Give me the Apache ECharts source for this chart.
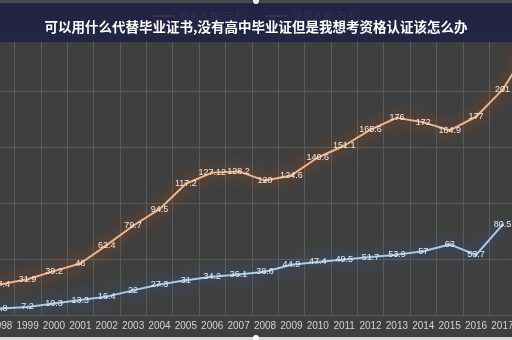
<!DOCTYPE html>
<html><head><meta charset="utf-8">
<script src="https://cdn.jsdelivr.net/npm/echarts@6/dist/echarts.min.js"></script>
<style>html,body{margin:0;padding:0;background:#3c3c3c;}#c{width:512px;height:340px;}</style>
</head><body><div id="c"></div>
<script>
var years = ['1998','1999','2000','2001','2002','2003','2004','2005','2006','2007','2008','2009','2010','2011','2012','2013','2014','2015','2016','2017','2018'];
var applicants = [27.4,31.9,39.2,46,62.4,79.7,94.5,117.2,127.12,128.2,120,124.6,140.6,151.1,165.6,176,172,164.9,177,201,238];
var admitted = [5.8,7.2,10.3,13.3,16.4,22,27.3,31,34.2,36.1,38.6,44.9,47.4,49.5,51.7,53.9,57,63,53.7,80.5,null];
var seriesNames = ['报名人数(万人)','录取人数(万人)'];
var titleText = '可以用什么代替毕业证书,没有高中毕业证但是我想考资格认证该怎么办';

var chart = echarts.init(document.getElementById('c'));
chart.setOption({
  backgroundColor: '#3f3f3f',
  animation: false,
  title: {
    text: titleText, left: 'center', top: 15, z: 300,
    textStyle: {color: '#ffffff', fontSize: 13.5, fontWeight: 'bold', fontFamily: 'Noto Sans CJK SC'}
  },
  legend: {
    top: 6, left: 'center', itemWidth: 22, itemHeight: 2, icon: 'rect', itemGap: 20,
    textStyle: {color: '#9a9ab0', fontSize: 10, fontFamily: 'Noto Sans CJK SC'},
    data: seriesNames
  },
  graphic: [
    {type: 'rect', z: 200, shape: {x: 0, y: 3, width: 512, height: 39}, style: {fill: 'rgba(32,32,70,0.88)'}},
    {type: 'rect', z: 200, shape: {x: 0, y: 0, width: 512, height: 3}, style: {fill: '#4a4a4a'}},
    {type: 'circle', z: 201, shape: {cx: 256, cy: 1, r: 3}, style: {fill: '#f0f0f0'}},
    {type: 'rect', z: 200, shape: {x: 0, y: 337, width: 512, height: 3}, style: {fill: '#d8d8d8'}},
    {type: 'circle', z: 201, shape: {cx: 256, cy: 338, r: 3}, style: {fill: '#ffffff'}}
  ],
  grid: {left: -12, right: -30, top: 35, bottom: 25, containLabel: false, outerBoundsMode: 'none'},
  xAxis: {
    type: 'category', data: years, boundaryGap: true,
    axisLine: {show: false}, axisTick: {show: false},
    axisLabel: {color: '#d2d2d2', fontSize: 10, margin: 6, interval: 0},
    splitLine: {show: true, lineStyle: {color: '#5a5a5a', width: 1}}
  },
  yAxis: {
    type: 'value', min: 0, max: 250, interval: 50,
    axisLabel: {show: false}, axisLine: {show: false}, axisTick: {show: false},
    splitLine: {show: true, lineStyle: {color: '#595959', width: 1}}
  },
  series: [
    {
      name: seriesNames[0], type: 'line', data: applicants,
      symbol: 'circle', symbolSize: 3,
      itemStyle: {color: '#f0ae7a'},
      lineStyle: {color: '#f2b284', width: 2, shadowColor: '#e85c10', shadowBlur: 16},
      label: {show: true, position: 'inside', color: '#f6e6d8', fontSize: 9}
    },
    {
      name: seriesNames[1], type: 'line', data: admitted,
      symbol: 'circle', symbolSize: 3,
      itemStyle: {color: '#a4c6ea'},
      lineStyle: {color: '#a8cbee', width: 2, shadowColor: '#2f76c8', shadowBlur: 16},
      label: {show: true, position: 'inside', color: '#e2ecf6', fontSize: 9}
    }
  ]
});
</script></body></html>
